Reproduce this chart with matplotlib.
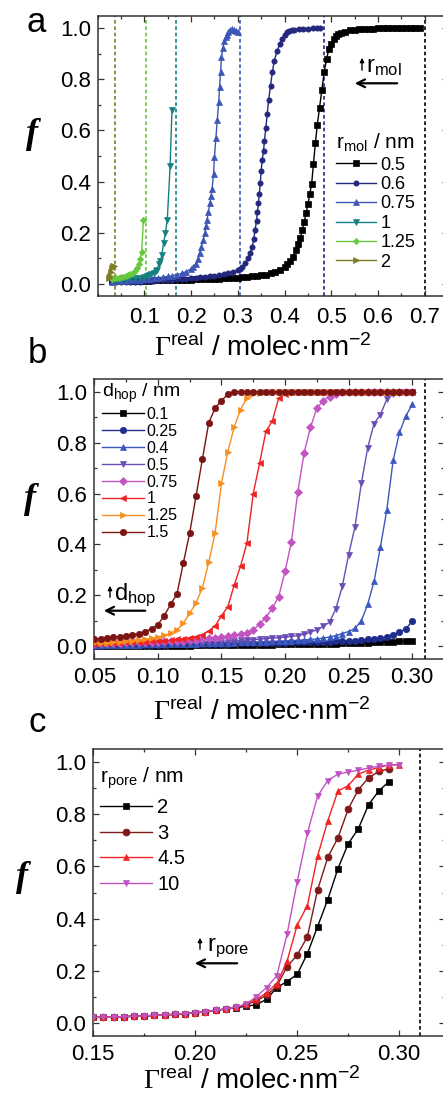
import numpy as np
import matplotlib
matplotlib.use("Agg")
import matplotlib.pyplot as plt
from matplotlib.patches import FancyArrowPatch
from matplotlib.ticker import MultipleLocator, FormatStrFormatter

plt.rcParams['font.family'] = ['Liberation Sans', 'DejaVu Sans']
plt.rcParams['mathtext.fontset'] = 'custom'
plt.rcParams['mathtext.rm'] = 'Liberation Serif'
plt.rcParams['mathtext.sf'] = 'Liberation Sans'
plt.rcParams['mathtext.it'] = 'Liberation Sans:italic'
plt.rcParams['mathtext.bf'] = 'Liberation Sans:bold'

# ---------------- panel a: molecular radius ----------------
rmol_labels = ['0.5', '0.6', '0.75', '1', '1.25', '2']
rmol_colors = ['#000000', '#23287e', '#3d55b5', '#168080', '#66c83e', '#7d7d28']
rmol_markers = ['s', 'o', '^', 'v', 'D', '>']
rmol_jam = [0.70, 0.484, 0.304, 0.168, 0.104, 0.036]

mol_050_x = [0.03, 0.04, 0.05, 0.06, 0.07, 0.08, 0.09, 0.10, 0.11, 0.12, 0.13, 0.14, 0.15, 0.16,
             0.17, 0.18, 0.19, 0.20, 0.21, 0.22, 0.23, 0.24, 0.25, 0.26, 0.27, 0.28, 0.29, 0.30,
             0.31, 0.32, 0.33, 0.34, 0.35, 0.36, 0.37, 0.38, 0.39, 0.40,
             0.406, 0.412, 0.418, 0.424, 0.429, 0.434, 0.438, 0.442, 0.446, 0.450, 0.454, 0.458,
             0.462, 0.466, 0.470, 0.475, 0.480, 0.485, 0.490, 0.495, 0.500, 0.505, 0.510, 0.515,
             0.520, 0.53, 0.54, 0.55, 0.56, 0.57, 0.58, 0.59, 0.60, 0.61, 0.62, 0.63, 0.64, 0.65,
             0.66, 0.67, 0.68, 0.69]
mol_050_y = [0.010, 0.010, 0.010, 0.010, 0.010, 0.010, 0.010, 0.010, 0.011, 0.012, 0.012, 0.012,
             0.013, 0.013, 0.014, 0.014, 0.015, 0.015, 0.016, 0.016, 0.017, 0.018, 0.018, 0.019,
             0.020, 0.021, 0.022, 0.023, 0.024, 0.026, 0.028, 0.030, 0.032, 0.035, 0.040, 0.045,
             0.052, 0.065,
             0.075, 0.090, 0.105, 0.130, 0.155, 0.180, 0.210, 0.240, 0.275, 0.310, 0.350, 0.390,
             0.470, 0.550, 0.620, 0.690, 0.760, 0.830, 0.880, 0.920, 0.940, 0.960, 0.970, 0.978,
             0.983, 0.988, 0.992, 0.994, 0.996, 0.997, 0.998, 0.999, 1.0, 1.0, 1.0, 1.0, 1.0, 1.0,
             1.0, 1.0, 1.0, 1.0]

mol_060_x = [0.03, 0.04, 0.05, 0.06, 0.07, 0.08, 0.09, 0.10, 0.11, 0.12, 0.13, 0.14, 0.15, 0.16,
             0.17, 0.18, 0.19, 0.20, 0.21, 0.22, 0.23, 0.24, 0.25, 0.26, 0.27, 0.28, 0.29, 0.30,
             0.305, 0.31, 0.316, 0.322, 0.327, 0.331, 0.334, 0.337, 0.340, 0.342, 0.344, 0.346,
             0.348, 0.350, 0.352, 0.355, 0.357, 0.360, 0.363, 0.366, 0.370, 0.374, 0.378, 0.384,
             0.390, 0.395, 0.400, 0.405, 0.410, 0.415, 0.420, 0.430, 0.440, 0.450, 0.460, 0.470,
             0.477]
mol_060_y = [0.005, 0.005, 0.006, 0.006, 0.007, 0.008, 0.008, 0.009, 0.010, 0.011, 0.012, 0.013,
             0.014, 0.015, 0.016, 0.018, 0.019, 0.020, 0.022, 0.024, 0.026, 0.028, 0.030, 0.033,
             0.036, 0.040, 0.045, 0.052,
             0.058, 0.066, 0.080, 0.100, 0.120, 0.145, 0.173, 0.210, 0.246, 0.280, 0.314, 0.350,
             0.395, 0.440, 0.483, 0.520, 0.560, 0.610, 0.666, 0.720, 0.776, 0.830, 0.874, 0.910,
             0.940, 0.960, 0.975, 0.985, 0.990, 0.993, 0.995, 0.997, 0.998, 0.999, 1.0, 1.0, 1.0]

mol_075_x = [0.03, 0.04, 0.05, 0.06, 0.07, 0.08, 0.09, 0.10, 0.11, 0.12, 0.13, 0.14, 0.15, 0.16,
             0.17, 0.18, 0.19, 0.20,
             0.205, 0.210, 0.214, 0.218, 0.222, 0.226, 0.229, 0.232, 0.234, 0.237, 0.240, 0.243,
             0.245, 0.248, 0.250, 0.253, 0.256, 0.259, 0.261, 0.263, 0.265, 0.268, 0.271, 0.274,
             0.277, 0.280, 0.284, 0.288, 0.292, 0.296, 0.300]
mol_075_y = [0.008, 0.009, 0.010, 0.011, 0.012, 0.013, 0.015, 0.017, 0.019, 0.021, 0.023, 0.025,
             0.028, 0.031, 0.035, 0.040, 0.047, 0.058,
             0.066, 0.078, 0.095, 0.120, 0.145, 0.170, 0.197, 0.225, 0.249, 0.280, 0.314, 0.345,
             0.372, 0.430, 0.496, 0.570, 0.640, 0.710, 0.772, 0.830, 0.887, 0.925, 0.950, 0.965,
             0.975, 0.985, 0.993, 0.997, 0.995, 0.990, 0.985]

mol_100_x = [0.03, 0.04, 0.05, 0.06, 0.07, 0.08, 0.09, 0.10, 0.105, 0.11, 0.115, 0.12, 0.124,
             0.127, 0.131, 0.134, 0.137, 0.141, 0.145, 0.149, 0.155, 0.159]
mol_100_y = [0.012, 0.014, 0.015, 0.016, 0.018, 0.020, 0.023, 0.027, 0.030, 0.033, 0.037, 0.042,
             0.048, 0.055, 0.075, 0.088, 0.110, 0.158, 0.200, 0.250, 0.460, 0.680]

mol_125_x = [0.03, 0.035, 0.04, 0.045, 0.05, 0.055, 0.06, 0.065, 0.07, 0.075, 0.08, 0.084, 0.088,
             0.091, 0.094, 0.098]
mol_125_y = [0.018, 0.020, 0.021, 0.023, 0.025, 0.027, 0.030, 0.033, 0.037, 0.042, 0.050, 0.062,
             0.075, 0.095, 0.123, 0.250]

mol_200_x = [0.024, 0.026, 0.028, 0.030, 0.032, 0.034]
mol_200_y = [0.020, 0.030, 0.045, 0.060, 0.070, 0.068]

rmol_x = [mol_050_x, mol_060_x, mol_075_x, mol_100_x, mol_125_x, mol_200_x]
rmol_y = [mol_050_y, mol_060_y, mol_075_y, mol_100_y, mol_125_y, mol_200_y]

# ---------------- panel b: hopping distance ----------------
hop_x = np.linspace(0.05, 0.30, 51)
dhop_labels = ['0.1', '0.25', '0.4', '0.5', '0.75', '1', '1.25', '1.5']
dhop_colors = ['#000000', '#1f2c8c', '#3a58bf', '#6a4db4', '#c255c2', '#ee2222', '#f68e20', '#7c1414']
dhop_markers = ['s', 'o', '^', 'v', 'D', '<', '>', 'o']
dhop_jam = 0.31

hop_010 = [0.000, 0.000, 0.001, 0.001, 0.001, 0.001, 0.001, 0.002, 0.002, 0.002,
           0.002, 0.002, 0.003, 0.003, 0.003, 0.003, 0.004, 0.004, 0.004, 0.004,
           0.004, 0.005, 0.005, 0.005, 0.005, 0.006, 0.006, 0.006, 0.006, 0.007,
           0.007, 0.007, 0.008, 0.008, 0.008, 0.009, 0.009, 0.010, 0.010, 0.011,
           0.011, 0.012, 0.013, 0.014, 0.015, 0.016, 0.017, 0.018, 0.019, 0.020, 0.020]
hop_025 = [0.003, 0.003, 0.004, 0.004, 0.004, 0.005, 0.005, 0.005, 0.005, 0.006,
           0.006, 0.006, 0.007, 0.007, 0.007, 0.008, 0.008, 0.008, 0.009, 0.009,
           0.010, 0.010, 0.011, 0.011, 0.011, 0.012, 0.012, 0.013, 0.013, 0.014,
           0.014, 0.015, 0.015, 0.016, 0.016, 0.017, 0.017, 0.018, 0.019, 0.020,
           0.021, 0.022, 0.024, 0.027, 0.030, 0.033, 0.037, 0.045, 0.056, 0.069, 0.098]
hop_040 = [0.004, 0.004, 0.005, 0.005, 0.005, 0.006, 0.006, 0.006, 0.007, 0.007,
           0.007, 0.008, 0.008, 0.009, 0.009, 0.010, 0.010, 0.011, 0.011, 0.012,
           0.013, 0.013, 0.014, 0.015, 0.015, 0.016, 0.017, 0.018, 0.019, 0.020,
           0.021, 0.022, 0.023, 0.025, 0.027, 0.029, 0.032, 0.036, 0.042, 0.050,
           0.058, 0.070, 0.100, 0.165, 0.255, 0.390, 0.535, 0.730, 0.840, 0.905, 0.950]
hop_050 = [0.006, 0.006, 0.007, 0.007, 0.008, 0.008, 0.009, 0.009, 0.010, 0.010,
           0.011, 0.011, 0.012, 0.013, 0.014, 0.015, 0.016, 0.017, 0.018, 0.019,
           0.020, 0.021, 0.022, 0.023, 0.025, 0.026, 0.028, 0.030, 0.032, 0.034,
           0.036, 0.039, 0.042, 0.047, 0.055, 0.065, 0.078, 0.095, 0.148, 0.235,
           0.360, 0.470, 0.640, 0.780, 0.875, 0.910, 0.970, 0.990, 1.000, 1.000, 1.000]
hop_075 = [0.012, 0.013, 0.013, 0.014, 0.014, 0.015, 0.015, 0.016, 0.016, 0.017,
           0.018, 0.019, 0.020, 0.021, 0.022, 0.024, 0.026, 0.028, 0.031, 0.034,
           0.037, 0.040, 0.043, 0.047, 0.052, 0.065, 0.087, 0.113, 0.150, 0.195,
           0.295, 0.410, 0.605, 0.760, 0.860, 0.935, 0.965, 0.980, 0.990, 1.000,
           1.000, 1.000, 1.000, 1.000, 1.000, 1.000, 1.000, 1.000, 1.000, 1.000, 1.000]
hop_100 = [0.010, 0.011, 0.012, 0.013, 0.014, 0.015, 0.016, 0.017, 0.018, 0.019,
           0.020, 0.022, 0.024, 0.027, 0.030, 0.034, 0.038, 0.046, 0.060, 0.080,
           0.120, 0.155, 0.240, 0.315, 0.405, 0.600, 0.720, 0.845, 0.885, 0.975,
           0.990, 1.000, 1.000, 1.000, 1.000, 1.000, 1.000, 1.000, 1.000, 1.000,
           1.000, 1.000, 1.000, 1.000, 1.000, 1.000, 1.000, 1.000, 1.000, 1.000, 1.000]
hop_125 = [0.012, 0.013, 0.014, 0.015, 0.017, 0.019, 0.021, 0.024, 0.027, 0.031,
           0.036, 0.043, 0.052, 0.064, 0.090, 0.130, 0.170, 0.230, 0.330, 0.445,
           0.640, 0.765, 0.860, 0.930, 0.975, 0.990, 0.995, 1.000, 1.000, 1.000,
           1.000, 1.000, 1.000, 1.000, 1.000, 1.000, 1.000, 1.000, 1.000, 1.000,
           1.000, 1.000, 1.000, 1.000, 1.000, 1.000, 1.000, 1.000, 1.000, 1.000, 1.000]
hop_150 = [0.028, 0.030, 0.032, 0.035, 0.038, 0.041, 0.045, 0.050, 0.058, 0.068,
           0.085, 0.120, 0.165, 0.205, 0.327, 0.445, 0.590, 0.735, 0.878, 0.935,
           0.965, 0.990, 1.000, 1.000, 1.000, 1.000, 1.000, 1.000, 1.000, 1.000,
           1.000, 1.000, 1.000, 1.000, 1.000, 1.000, 1.000, 1.000, 1.000, 1.000,
           1.000, 1.000, 1.000, 1.000, 1.000, 1.000, 1.000, 1.000, 1.000, 1.000, 1.000]
dhop_y = [hop_010, hop_025, hop_040, hop_050, hop_075, hop_100, hop_125, hop_150]

# ---------------- panel c: pore radius ----------------
pore_x = np.linspace(0.15, 0.30, 31)
rpore_labels = ['2', '3', '4.5', '10']
rpore_colors = ['#000000', '#7e1a1a', '#f02424', '#c252c2']
rpore_markers = ['s', 'o', '^', 'v']
rpore_jam = 0.31

pore_2 = [0.020, 0.021, 0.022, 0.023, 0.025, 0.026, 0.028, 0.030, 0.032, 0.035,
          0.038, 0.042, 0.047, 0.053, 0.058, 0.063, 0.069, 0.090, 0.135, 0.158,
          0.186, 0.265, 0.369, 0.473, 0.592, 0.687, 0.745, 0.837, 0.890, 0.926]
pore_3 = [0.020, 0.021, 0.022, 0.023, 0.025, 0.026, 0.028, 0.030, 0.032, 0.035,
          0.038, 0.042, 0.047, 0.053, 0.060, 0.068, 0.085, 0.105, 0.140, 0.215,
          0.260, 0.330, 0.510, 0.635, 0.710, 0.820, 0.895, 0.940, 0.965, 0.975]
pore_45 = [0.020, 0.021, 0.022, 0.023, 0.025, 0.026, 0.028, 0.030, 0.032, 0.035,
           0.038, 0.042, 0.047, 0.053, 0.060, 0.070, 0.090, 0.115, 0.150, 0.235,
           0.375, 0.450, 0.640, 0.775, 0.890, 0.910, 0.955, 0.970, 0.980, 0.990, 0.990]
pore_10 = [0.020, 0.021, 0.022, 0.023, 0.025, 0.026, 0.028, 0.030, 0.032, 0.035,
           0.038, 0.042, 0.047, 0.053, 0.060, 0.072, 0.100, 0.135, 0.180, 0.339,
           0.541, 0.728, 0.870, 0.930, 0.955, 0.962, 0.970, 0.978, 0.985, 0.990, 0.990]
rpore_y = [pore_2, pore_3, pore_45, pore_10]

# ---------------- figure ----------------
W, H = 443, 1102
fig = plt.figure(figsize=(W / 100, H / 100), dpi=100)


def axes_px(left, top, right, bottom):
    return fig.add_axes([left / W, 1 - bottom / H, (right - left) / W, (bottom - top) / H])


def style_axes(ax, xmaj, xmin, xfmt):
    for s in ax.spines.values():
        s.set_linewidth(1.1)
        s.set_color('#333333')
    ax.xaxis.set_major_locator(MultipleLocator(xmaj))
    ax.xaxis.set_minor_locator(MultipleLocator(xmin))
    ax.yaxis.set_major_locator(MultipleLocator(0.2))
    ax.yaxis.set_minor_locator(MultipleLocator(0.1))
    ax.xaxis.set_major_formatter(FormatStrFormatter(xfmt))
    ax.yaxis.set_major_formatter(FormatStrFormatter('%.1f'))
    ax.tick_params(which='both', direction='in', top=True, right=True, width=0.9, color='#333333')
    ax.tick_params(which='major', length=4.5, labelsize=16)
    ax.tick_params(which='minor', length=2.5)
    ax.tick_params(axis='y', pad=5)
    ax.set_ylim(-0.05, 1.05)


XLABEL = r'$\mathrm{\Gamma}^{\mathsf{real}}$ / molec·nm$^{\mathsf{-2}}$'


def labels(ax, xl_x, xl_y, f_x, f_y):
    ax.set_xlabel(XLABEL, fontsize=20, labelpad=0)
    ax.xaxis.set_label_coords(xl_x, xl_y)
    ax.text(f_x, f_y, 'f', transform=ax.transAxes, ha='center', va='center',
            fontsize=26, family='Liberation Serif', style='italic', weight='bold')


def direction_note(up_x, up_y0, up_y1, txt, tx, ty, hx0, hx1, hy, fs):
    fig.add_artist(FancyArrowPatch(
        (up_x / W, 1 - up_y0 / H), (up_x / W, 1 - up_y1 / H), transform=fig.transFigure,
        arrowstyle='-|>', mutation_scale=6, lw=1.0, color='black'))
    fig.text(tx / W, 1 - ty / H, txt, fontsize=fs, va='baseline', ha='left')
    fig.add_artist(FancyArrowPatch(
        (hx0 / W, 1 - hy / H), (hx1 / W, 1 - hy / H), transform=fig.transFigure,
        arrowstyle='->', mutation_scale=14, lw=1.6, color='black'))


# panel a
axa = axes_px(97.7, 15.7, 448, 296.3)
style_axes(axa, 0.1, 0.05, '%.1f')
axa.set_xlim(0.0, 0.75)
axa.set_xticks([0.1, 0.2, 0.3, 0.4, 0.5, 0.6, 0.7])
axa.tick_params(axis='x', pad=8)
for xj, c in zip(rmol_jam, rmol_colors):
    axa.axvline(xj, color=c, ls=(0, (2.2, 1.6)), lw=1.2, zorder=1)
for xs, ys, c, m, lab in zip(rmol_x, rmol_y, rmol_colors, rmol_markers, rmol_labels):
    ms = 3.2 if m == 'D' else 3.8
    axa.plot(xs, ys, color=c, marker=m, ms=ms, lw=1.0, mec=c, mfc=c, mew=0.5, label=lab, zorder=3)
axa.legend(loc='upper left', bbox_to_anchor=(0.68, 0.585), frameon=False, fontsize=13,
           title=r'r$_{\mathsf{mol}}$ / nm', title_fontsize=15, alignment='left',
           handlelength=2.2, handletextpad=0.25, labelspacing=0.13, borderpad=0,
           borderaxespad=0)
labels(axa, 0.472, -0.131, -0.1875, 0.578)
fig.text(27 / W, 1 - 31.7 / H, 'a', fontsize=25, va='baseline', ha='left')
direction_note(362, 73, 55, r'r$_{\mathsf{mol}}$', 366, 72, 400, 352, 83.3, 17)

# panel b
axb = axes_px(94.3, 379, 444, 659)
style_axes(axb, 0.05, 0.025, '%.2f')
axb.set_xlim(0.05, 0.325)
axb.set_xticks([0.05, 0.10, 0.15, 0.20, 0.25, 0.30])
axb.tick_params(axis='x', pad=6)
axb.axvline(dhop_jam, color='black', ls=(0, (2.2, 1.6)), lw=1.2, zorder=1)
for ys, c, m, lab in zip(dhop_y, dhop_colors, dhop_markers, dhop_labels):
    ms = 4.0 if m == 'D' else 4.6
    axb.plot(hop_x, ys, color=c, marker=m, ms=ms, lw=1.0, mec=c, mfc=c, mew=0.5, label=lab, zorder=3)
axb.legend(loc='upper left', bbox_to_anchor=(0.022, 0.99), frameon=False, fontsize=11.5,
           title=r'd$_{\mathsf{hop}}$ / nm', title_fontsize=14, alignment='left',
           handlelength=2.6, handletextpad=0.2, labelspacing=0.12, borderpad=0, borderaxespad=0)
labels(axb, 0.48, -0.136, -0.184, 0.571)
fig.text(28 / W, 1 - 363 / H, 'b', fontsize=25, va='baseline', ha='left')
direction_note(110, 600, 583, r'd$_{\mathsf{hop}}$', 114, 600, 148, 101, 610.7, 17)

# panel c
axc = axes_px(93.3, 749.3, 445, 1035.7)
style_axes(axc, 0.05, 0.025, '%.2f')
axc.set_xlim(0.15, 0.3225)
axc.set_xticks([0.15, 0.20, 0.25, 0.30])
axc.tick_params(axis='x', pad=6)
axc.axvline(rpore_jam, color='black', ls=(0, (2.2, 1.6)), lw=1.2, zorder=1)
for ys, c, m, lab in zip(rpore_y, rpore_colors, rpore_markers, rpore_labels):
    axc.plot(pore_x[:len(ys)], ys, color=c, marker=m, ms=5.0, lw=1.0, mec=c, mfc=c, mew=0.5,
             label=lab, zorder=3)
axc.legend(loc='upper left', bbox_to_anchor=(0.019, 0.942), frameon=False, fontsize=14.5,
           title=r'r$_{\mathsf{pore}}$ / nm', title_fontsize=15, alignment='left',
           handlelength=2.6, handletextpad=0.25, labelspacing=0.33, borderpad=0, borderaxespad=0)
labels(axc, 0.451, -0.109, -0.203, 0.554)
fig.text(28 / W, 1 - 732 / H, 'c', fontsize=25, va='baseline', ha='left')
direction_note(200, 952, 935, r'r$_{\mathsf{pore}}$', 207, 951, 240, 192, 963.3, 17)

fig.savefig('out.png', dpi=100)
